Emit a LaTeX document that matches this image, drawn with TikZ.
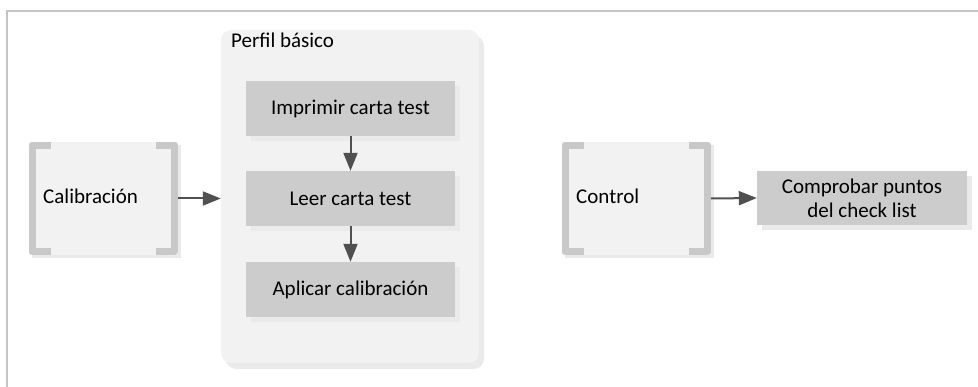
\documentclass[tikz,border=0pt]{standalone}
\usepackage{fontspec}
\setmainfont{Carlito}
\usetikzlibrary{arrows.meta,shadows}
\definecolor{boxgray}{HTML}{CCCCCC}
\definecolor{panel}{HTML}{F2F2F2}
\definecolor{brk}{HTML}{C8C8C8}
\definecolor{arr}{HTML}{505050}
\definecolor{shade}{HTML}{EAEAEA}
\definecolor{framecol}{HTML}{C4C4C4}
\newcommand\drawbrackets[1]{%
  \draw[brk, line width=7pt, line join=round]
    ([shift={(22,3.5)}]#1.north west) -- ([shift={(3.5,3.5)}]#1.north west)
    -- ([shift={(3.5,-3.5)}]#1.south west) -- ([shift={(22,-3.5)}]#1.south west);
  \draw[brk, line width=7pt, line join=round]
    ([shift={(-22,3.5)}]#1.north east) -- ([shift={(-3.5,3.5)}]#1.north east)
    -- ([shift={(-3.5,-3.5)}]#1.south east) -- ([shift={(-22,-3.5)}]#1.south east);
}
\begin{document}
\begin{tikzpicture}[x=1pt,y=-1pt,
  font=\fontsize{21}{24}\selectfont,
  stepbox/.style={fill=boxgray, minimum width=209, minimum height=55, inner sep=0,
    general shadow={fill=shade, shadow xshift=5pt, shadow yshift=-5pt}},
  panelbox/.style={fill=panel, rounded corners=10, minimum width=258, minimum height=333,
    inner sep=0, general shadow={fill=shade, shadow xshift=5pt, shadow yshift=-6pt}},
  bracketbox/.style={fill=panel, minimum width=149, minimum height=113, inner sep=0,
    general shadow={fill=shade, shadow xshift=3pt, shadow yshift=-3pt}},
  label/.style={inner sep=0, anchor=west},
  flow/.style={arr, line width=2pt, -{Triangle[length=18pt,width=14pt]}}
]
\useasboundingbox (0,0) rectangle (978,387);
\draw[framecol, line width=1.5pt] (7,390) -- (7,11) -- (980,11);

% Perfil basico group
\node[panelbox] (perfil) at (350,196.5) {};
\node[label] (perfiltitle) at (231,40) {Perfil básico};
\node[stepbox] (imp) at (350.5,108.5) {Imprimir carta test};
\node[stepbox] (leer) at (350.5,198.5) {Leer carta test};
\node[stepbox] (apl) at (350.5,289.5) {Aplicar calibración};
\draw[flow] (imp.south) -- (leer.north);
\draw[flow] (leer.south) -- (apl.north);

% Calibracion
\node[bracketbox] (cal) at (103.5,198.5) {};
\drawbrackets{cal}
\node[label] (caltext) at (43,196) {Calibración};
\draw[flow] (cal.east) -- (cal.east -| perfil.west);

% Control
\node[bracketbox] (ctl) at (636.5,198.5) {};
\drawbrackets{ctl}
\node[label] (ctltext) at (576,196) {Control};
\node[stepbox, minimum width=210, minimum height=54, align=center] (comp) at (862,198)
  {Comprobar puntos\\del check list};
\draw[flow] (ctl.east) -- (comp.west);
\end{tikzpicture}
\end{document}
